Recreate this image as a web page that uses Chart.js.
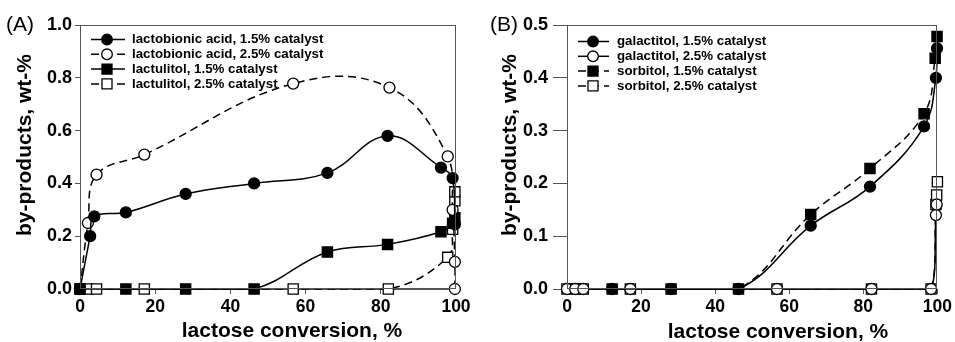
<!DOCTYPE html>
<html><head><meta charset="utf-8">
<script src="https://cdn.jsdelivr.net/npm/chart.js@4.4.0/dist/chart.umd.min.js"></script>
<style>
body{margin:0;background:#fff;width:955px;height:342px;overflow:hidden;position:relative}
canvas{position:absolute;top:0}
</style></head>
<body>
<canvas id="ca" width="477" height="342" style="left:0px"></canvas>
<canvas id="cb" width="478" height="342" style="left:477px"></canvas>
<script>
// ---- tick labels ----
const xTicks = [0, 20, 40, 60, 80, 100];
const yTicksA = [0.0, 0.2, 0.4, 0.6, 0.8, 1.0];
const yTicksB = [0.0, 0.1, 0.2, 0.3, 0.4, 0.5];

// ---- Panel A: lactobionic acid / lactulitol ----
const lba15X = [0, 2.7, 3.8, 12.2, 28.1, 46.3, 65.8, 81.8, 96.0, 99.1, 99.7];
const lba15Y = [0, 0.20, 0.275, 0.29, 0.36, 0.40, 0.44, 0.58, 0.46, 0.42, 0.245];
const lba25X = [0, 2.1, 4.4, 17.1, 56.7, 82.3, 97.8, 99.1, 99.7, 99.7];
const lba25Y = [0, 0.25, 0.433, 0.509, 0.778, 0.763, 0.502, 0.30, 0.103, 0.0];
const lac15X = [0, 12.2, 28.1, 46.3, 65.8, 81.8, 96.0, 99.1, 99.7];
const lac15Y = [0, 0, 0, 0, 0.14, 0.169, 0.217, 0.249, 0.27];
const lac25X = [0, 2.2, 4.4, 17.1, 56.7, 82.0, 97.8, 99.1, 99.7, 99.7];
const lac25Y = [0, 0, 0, 0, 0, 0, 0.12, 0.226, 0.334, 0.368];

// ---- Panel B: galactitol / sorbitol ----
const gal15X = [12.2, 28.1, 46.3, 65.8, 81.8, 96.4, 99.6, 99.9];
const gal15Y = [0, 0, 0, 0.12, 0.194, 0.308, 0.40, 0.456];
const gal25X = [0, 2.2, 4.4, 17.1, 56.7, 82.2, 98.3, 99.6, 99.8];
const gal25Y = [0, 0, 0, 0, 0, 0, 0, 0.14, 0.16];
const sor15X = [12.2, 28.1, 46.3, 65.8, 81.8, 96.4, 99.4, 99.9];
const sor15Y = [0, 0, 0, 0.141, 0.228, 0.332, 0.437, 0.478];
const sor25X = [0, 2.2, 4.4, 17.1, 56.7, 82.2, 98.3, 99.6, 99.8, 100];
const sor25Y = [0, 0, 0, 0, 0, 0, 0, 0.16, 0.178, 0.203];

const FAM = '"Liberation Sans", Arial, Helvetica, sans-serif';
const pts = (xs, ys) => xs.map((x, i) => ({x: x, y: ys[i]}));

function ds(label, xs, ys, filled, shape, dashed) {
  return {
    label: label, data: pts(xs, ys),
    borderColor: '#000', borderWidth: 1.5, borderDash: dashed ? [8, 5] : [],
    pointStyle: shape === 'sq' ? 'rect' : 'circle',
    pointRadius: shape === 'sq' ? 7.2 : 5.5,
    pointBackgroundColor: filled ? '#000' : '#fff',
    pointBorderColor: '#000', pointBorderWidth: 1.3,
    tension: 0.4, clip: false, fill: false,
    _filled: filled, _shape: shape
  };
}

function decor(c) {
  return {
    id: 'decor',
    afterDraw(chart) {
      const ctx = chart.ctx, a = chart.chartArea;
      ctx.save();
      ctx.strokeStyle = '#555'; ctx.lineWidth = 1; ctx.setLineDash([]);
      ctx.strokeRect(Math.round(a.left) + 0.5, Math.round(a.top) + 0.5,
                     Math.round(a.right - a.left) - 1, Math.round(a.bottom - a.top) - 1);
      ctx.fillStyle = '#000';
      ctx.font = '21px ' + FAM; ctx.textAlign = 'left'; ctx.textBaseline = 'middle';
      ctx.fillText(c.panel, c.panelX, c.panelY);
      ctx.font = 'bold 21px ' + FAM; ctx.textAlign = 'center'; ctx.textBaseline = 'alphabetic';
      ctx.fillText(c.xTitle, c.xTitleX, c.xTitleY);
      ctx.save(); ctx.translate(c.yTitleX, c.yTitleY); ctx.rotate(-Math.PI / 2);
      ctx.fillText(c.yTitle, 0, 0); ctx.restore();
      // legend
      chart.data.datasets.forEach((d, i) => {
        const y = c.legY + i * c.legDY;
        ctx.beginPath(); ctx.setLineDash(d.borderDash); ctx.lineWidth = 1.5; ctx.strokeStyle = '#000';
        ctx.moveTo(c.legX0, y); ctx.lineTo(c.legX1, y); ctx.stroke(); ctx.setLineDash([]);
        ctx.beginPath();
        if (d._shape === 'sq') ctx.rect(c.legM - 5, y - 5, 10, 10);
        else ctx.arc(c.legM, y, 5.3, 0, Math.PI * 2);
        ctx.fillStyle = d._filled ? '#000' : '#fff'; ctx.fill();
        ctx.lineWidth = 1.3; ctx.stroke();
        ctx.fillStyle = '#000'; ctx.font = 'bold 13.3px ' + FAM;
        ctx.textAlign = 'left'; ctx.textBaseline = 'middle';
        ctx.fillText(d.label, c.legT, y);
      });
      ctx.restore();
    }
  };
}

function makeChart(id, datasets, yMax, yTicks, yWidth, yTickLen, yPad, padRight, deco) {
  return new Chart(document.getElementById(id), {
    type: 'line',
    data: {datasets: datasets},
    options: {
      responsive: false, animation: false, devicePixelRatio: 1,
      layout: {padding: {left: 0, top: 25, right: padRight, bottom: 0}},
      plugins: {legend: {display: false}, tooltip: {enabled: false}},
      scales: {
        x: {
          type: 'linear', min: 0, max: 100,
          afterBuildTicks: s => { s.ticks = xTicks.map(v => ({value: v})); },
          afterFit: s => { s.height = 53; },
          ticks: {font: {family: FAM, size: 17.5, weight: 'bold'}, color: '#000', padding: 3, maxRotation: 0, autoSkip: false},
          grid: {drawOnChartArea: false, tickLength: 5, color: '#555'},
          border: {color: '#555', width: 1}
        },
        y: {
          type: 'linear', min: 0, max: yMax,
          afterBuildTicks: s => { s.ticks = yTicks.map(v => ({value: v})); },
          afterFit: s => { s.width = yWidth; },
          ticks: {font: {family: FAM, size: 18, weight: 'bold'}, color: '#000', padding: yPad,
                  callback: v => Number(v).toFixed(1)},
          grid: {drawOnChartArea: false, tickLength: yTickLen, color: '#555'},
          border: {color: '#555', width: 1}
        }
      }
    },
    plugins: [decor(deco)]
  });
}

makeChart('ca', [
  ds('lactobionic acid, 1.5% catalyst', lba15X, lba15Y, true, 'c', false),
  ds('lactobionic acid, 2.5% catalyst', lba25X, lba25Y, false, 'c', true),
  ds('lactulitol, 1.5% catalyst', lac15X, lac15Y, true, 'sq', false),
  ds('lactulitol, 2.5% catalyst', lac25X, lac25Y, false, 'sq', true)
], 1.0, yTicksA, 80, 5, 3, 21, {
  panel: '(A)', panelX: 6, panelY: 25,
  xTitle: 'lactose conversion, %', xTitleX: 292, xTitleY: 337,
  yTitle: 'by-products, wt-%', yTitleX: 31, yTitleY: 145,
  legY: 39.5, legDY: 14.8, legX0: 91, legX1: 125, legM: 107, legT: 132
});

makeChart('cb', [
  ds('galactitol, 1.5% catalyst', gal15X, gal15Y, true, 'c', false),
  ds('galactitol, 2.5% catalyst', gal25X, gal25Y, false, 'c', false),
  ds('sorbitol, 1.5% catalyst', sor15X, sor15Y, true, 'sq', true),
  ds('sorbitol, 2.5% catalyst', sor25X, sor25Y, false, 'sq', true)
], 0.5, yTicksB, 90, 14, 5, 15, {
  panel: '(B)', panelX: 13, panelY: 25,
  xTitle: 'lactose conversion, %', xTitleX: 301, xTitleY: 338,
  yTitle: 'by-products, wt-%', yTitleX: 39, yTitleY: 145,
  legY: 41.5, legDY: 14.8, legX0: 101, legX1: 132, legM: 116, legT: 140
});
</script>
</body></html>
